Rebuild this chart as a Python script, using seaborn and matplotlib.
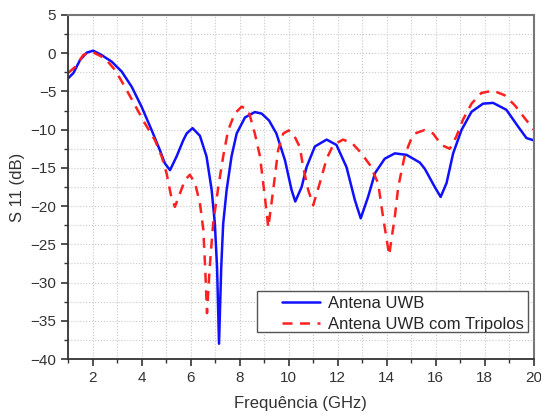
import numpy as np
import pandas as pd
import matplotlib
matplotlib.use("Agg")
import matplotlib.pyplot as plt
from matplotlib.patches import Rectangle
from matplotlib.ticker import MultipleLocator
import seaborn as sns

# ---- data (GHz, dB) ----
freq_uwb = [1.0, 1.22, 1.49, 1.76, 2.03, 2.37, 2.78, 3.19, 3.6, 4.0, 4.41, 4.75,
            4.95, 5.16, 5.43, 5.7, 5.84, 6.08, 6.38, 6.65, 6.86, 6.99, 7.08, 7.16,
            7.25, 7.33, 7.47, 7.67, 7.88, 8.22, 8.62, 8.9, 9.2, 9.5, 9.85, 10.12,
            10.27, 10.53, 10.73, 11.07, 11.55, 11.95, 12.36, 12.7, 12.94, 13.24,
            13.52, 13.92, 14.33, 14.81, 15.08, 15.35, 15.55, 15.96, 16.2, 16.44,
            16.71, 17.05, 17.46, 17.93, 18.34, 18.88, 19.36, 19.7, 20.0]
s11_uwb = [-3.3, -2.6, -0.9, 0.07, 0.33, -0.24, -1.1, -2.4, -4.4, -7.0, -10.05,
           -12.7, -14.4, -15.3, -13.5, -11.4, -10.5, -9.8, -10.8, -13.5, -17.9,
           -22.3, -28.0, -38.0, -28.0, -22.3, -17.9, -13.5, -10.5, -8.4, -7.7, -7.9,
           -8.8, -10.5, -14.0, -17.9, -19.4, -17.5, -14.9, -12.2, -11.3, -12.0,
           -14.9, -19.2, -21.6, -18.8, -15.7, -13.8, -13.1, -13.3, -13.8, -14.3,
           -15.1, -17.5, -18.8, -17.0, -13.1, -10.05, -7.66, -6.6, -6.5, -7.4,
           -9.6, -11.1, -11.4]

freq_trip = [1.0, 1.29, 1.62, 1.97, 2.51, 2.92, 3.32, 3.73, 4.14, 4.55, 4.82, 5.02,
             5.2, 5.36, 5.57, 5.77, 5.97, 6.18, 6.38, 6.52, 6.6, 6.67, 6.78, 6.92,
             7.13, 7.33, 7.53, 7.8, 8.08, 8.35, 8.62, 8.83, 9.03, 9.17, 9.37, 9.57,
             9.78, 10.0, 10.18, 10.46, 10.59, 10.8, 11.0, 11.27, 11.55, 11.82, 12.22,
             12.6, 12.97, 13.31, 13.65, 13.85, 14.1, 14.33, 14.47, 14.74, 15.0,
             15.15, 15.55, 15.89, 16.23, 16.57, 16.84, 17.11, 17.46, 17.86, 18.34,
             18.81, 19.22, 19.63, 20.0]
s11_trip = [-2.6, -1.8, -0.24, 0.2, -0.67, -2.2, -4.4, -6.8, -9.2, -11.4, -13.5,
            -15.7, -18.6, -20.1, -18.3, -16.6, -15.9, -17.0, -19.6, -23.1, -28.5,
            -34.0, -28.0, -22.3, -17.5, -13.5, -10.1, -7.9, -7.0, -7.4, -10.5, -13.5,
            -18.8, -22.8, -17.9, -12.7, -10.5, -10.1, -10.5, -12.3, -14.9, -17.9,
            -19.9, -17.0, -13.8, -12.0, -11.3, -11.8, -13.1, -14.6, -17.0, -21.4,
            -26.4, -21.4, -17.5, -13.3, -11.2, -10.5, -10.05, -10.5, -12.0, -12.5,
            -10.9, -8.7, -6.6, -5.2, -4.9, -5.5, -6.8, -8.5, -10.0]

label_uwb = "Antena UWB"
label_trip = "Antena UWB com Tripolos"

sns.set_style("white")
plt.rcParams['font.family'] = ['Liberation Sans', 'DejaVu Sans']

fig = plt.figure(figsize=(5.41, 4.16), dpi=100)
ax = fig.add_axes([0.1257, 0.137, 0.861, 0.827])

df_uwb = pd.DataFrame({"freq": freq_uwb, "s11": s11_uwb})
df_trip = pd.DataFrame({"freq": freq_trip, "s11": s11_trip})

sns.lineplot(data=df_uwb, x="freq", y="s11", ax=ax, color="#1010ff", lw=1.8,
             label=label_uwb, estimator=None, sort=False)
sns.lineplot(data=df_trip, x="freq", y="s11", ax=ax, color="#ff2020", lw=1.8,
             label=label_trip, estimator=None, sort=False, linestyle=(0, (4, 3)))

ax.set_xlim(1, 20)
ax.set_ylim(-40, 5)
ax.xaxis.set_major_locator(MultipleLocator(2))
ax.xaxis.set_minor_locator(MultipleLocator(1))
ax.yaxis.set_major_locator(MultipleLocator(5))
ax.yaxis.set_minor_locator(MultipleLocator(2.5))

ax.grid(True, which="both", color="#c8c8c8", linestyle=":", lw=0.8)
ax.tick_params(which="major", direction="out", length=5, width=1.2, labelsize=11,
               labelcolor="#333333", left=True, bottom=True, color="#333333")
ax.tick_params(which="minor", direction="out", length=3, width=1.0,
               left=True, bottom=True, color="#333333")

for side in ["left", "bottom"]:
    ax.spines[side].set_color("#333333")
    ax.spines[side].set_linewidth(1.3)
for side in ["top", "right"]:
    ax.spines[side].set_color("#777777")
    ax.spines[side].set_linewidth(1.5)

ax.set_xlabel("Frequência (GHz)", fontsize=12, color="#333333", labelpad=8)
ax.set_ylabel("S 11 (dB)", fontsize=12, color="#333333")

# legend box drawn by hand (reference frame has a wide left margin)
ax.add_patch(Rectangle((0.4056, 0.0785), 0.5815, 0.119, transform=ax.transAxes,
                       facecolor="white", edgecolor="#555555", lw=1.0, zorder=4))
leg = ax.legend(loc="center left", bbox_to_anchor=(0.441, 0.131), fontsize=12,
                frameon=False, borderpad=0, labelspacing=0.4, handlelength=2.3,
                handletextpad=0.5)
leg.set_zorder(5)

fig.savefig("out.png", dpi=100)
